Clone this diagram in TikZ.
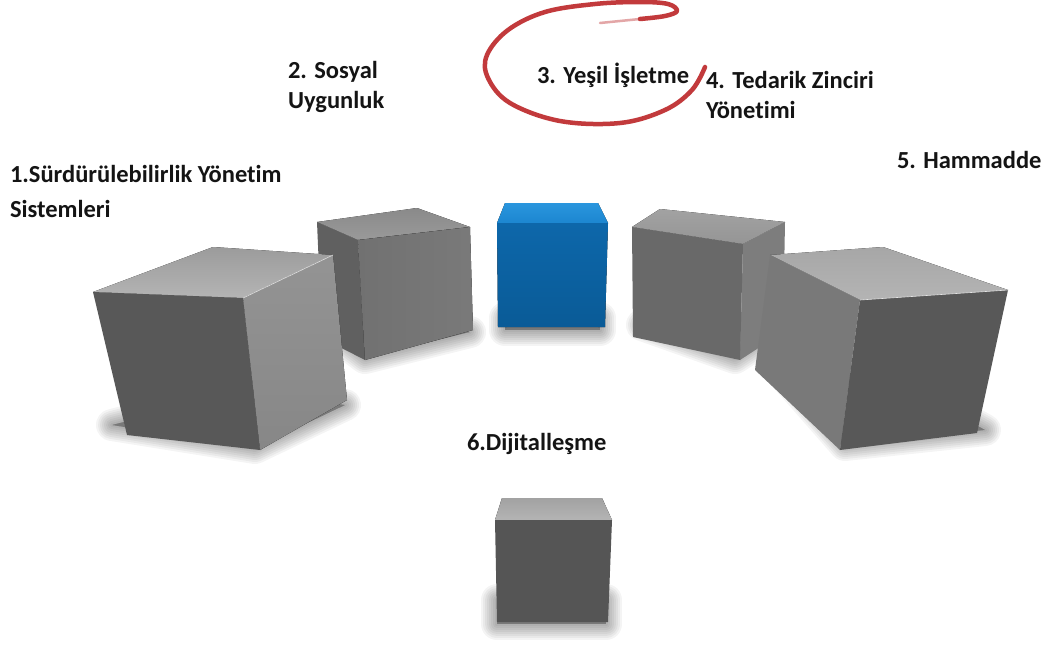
\documentclass[tikz,border=0pt]{standalone}
\usepackage{fontspec}
\setmainfont{Carlito}[Ligatures=NoCommon]

\definecolor{frontgray}{HTML}{585858}
\definecolor{sidegray}{HTML}{8E8E8E}
\definecolor{topgray}{HTML}{A2A2A2}
\definecolor{topgraylight}{HTML}{B4B4B4}
\definecolor{bluefront}{HTML}{0D67AA}
\definecolor{bluefrontdark}{HTML}{0A5B97}
\definecolor{bluetop}{HTML}{1C86D0}
\definecolor{bluetoplight}{HTML}{2A96DE}
\definecolor{loopred}{HTML}{C23A3C}
\definecolor{labelblack}{HTML}{141414}

\tikzset{
  label text/.style={font=\bfseries\fontsize{24.5}{30}\selectfont, text=labelblack,
    inner sep=0pt, outer sep=0pt, align=left},
  faceedge/.style={line width=0.6pt, line join=round},
}
% soft ground shadow: stacked translucent outlines of decreasing width
\newcommand{\softshadow}[1]{%
  \foreach \w in {32,28,...,2}{%
    \fill[black, opacity=0.045, draw=black, draw opacity=0.045,
      line width=\w pt, line join=round] #1;}%
}

\begin{document}
\begin{tikzpicture}[x=1pt,y=-1pt]
\useasboundingbox[fill=white] (0,0) rectangle (1044,645);

% ---- soft shadows on the ground ----
\softshadow{(112,425) -- (255,448) -- (345,405) -- (250,390) -- cycle}
\softshadow{(335,335) -- (365,358) -- (470,332) -- (430,322) -- cycle}
\softshadow{(505,318) -- (600,318) -- (600,330) -- (505,330) -- cycle}
\softshadow{(642,325) -- (735,358) -- (778,330) -- (700,318) -- cycle}
\softshadow{(775,365) -- (845,445) -- (985,430) -- (905,385) -- cycle}
\softshadow{(497,600) -- (606,600) -- (606,624) -- (497,624) -- cycle}

% ---- cube 2 (behind cube 1) ----
\coordinate (c2a) at (317,222); \coordinate (c2b) at (417,208);
\coordinate (c2c) at (470,227); \coordinate (c2d) at (358,240);
\coordinate (c2e) at (473,330); \coordinate (c2f) at (365,360);
\coordinate (c2g) at (322,338);
\fill[top color=topgray!85!black, bottom color=topgray!95!black] (c2a) -- (c2b) -- (c2c) -- (c2d) -- cycle;
\fill[color=frontgray!95!white] (c2a) -- (c2d) -- (c2f) -- (c2g) -- cycle;
\fill[left color=frontgray!85!white, right color=frontgray!80!white] (c2d) -- (c2c) -- (c2e) -- (c2f) -- cycle;

% ---- cube 3 (blue) ----
\coordinate (c3a) at (505,203); \coordinate (c3b) at (598,203);
\coordinate (c3c) at (608,223); \coordinate (c3d) at (497,223);
\coordinate (c3e) at (605,327); \coordinate (c3f) at (498,327);
\fill[top color=bluetoplight, bottom color=bluetop] (c3a) -- (c3b) -- (c3c) -- (c3d) -- cycle;
\fill[top color=bluefront, bottom color=bluefrontdark] (c3d) -- (c3c) -- (c3e) -- (c3f) -- cycle;

% ---- cube 4 (behind cube 5) ----
\coordinate (c4a) at (632,227); \coordinate (c4b) at (660,209);
\coordinate (c4c) at (785,222); \coordinate (c4d) at (743,244);
\coordinate (c4e) at (740,360); \coordinate (c4f) at (633,337);
\coordinate (c4g) at (783,332);
\fill[top color=topgray, bottom color=topgray!92!black] (c4a) -- (c4b) -- (c4c) -- (c4d) -- cycle;
\fill[color=sidegray!88!black] (c4d) -- (c4c) -- (c4g) -- (c4e) -- cycle;
\fill[color=frontgray!90!white] (c4a) -- (c4d) -- (c4e) -- (c4f) -- cycle;

% ---- cube 1 (large, left) ----
\coordinate (c1a) at (93,292);  \coordinate (c1b) at (243,298);
\coordinate (c1c) at (260,450); \coordinate (c1d) at (127,435);
\coordinate (c1e) at (213,247); \coordinate (c1f) at (333,255);
\coordinate (c1g) at (347,400);
\fill[top color=topgray!96!black, bottom color=topgraylight] (c1a) -- (c1e) -- (c1f) -- (c1b) -- cycle;
\fill[top color=sidegray!95!white, bottom color=sidegray!95!black] (c1b) -- (c1f) -- (c1g) -- (c1c) -- cycle;
\fill[color=frontgray] (c1a) -- (c1b) -- (c1c) -- (c1d) -- cycle;
\draw[faceedge, white!80!gray] (c1b) -- (c1f);

% ---- cube 5 (large, right) ----
\coordinate (c5a) at (770,255); \coordinate (c5b) at (883,247);
\coordinate (c5c) at (1008,290); \coordinate (c5d) at (860,300);
\coordinate (c5e) at (977,433); \coordinate (c5f) at (840,450);
\coordinate (c5g) at (755,370);
\fill[top color=topgray!95!white, bottom color=topgraylight] (c5a) -- (c5b) -- (c5c) -- (c5d) -- cycle;
\fill[color=sidegray!85!black] (c5a) -- (c5d) -- (c5f) -- (c5g) -- cycle;
\fill[color=frontgray] (c5d) -- (c5c) -- (c5e) -- (c5f) -- cycle;
\draw[faceedge, white!80!gray] (c5d) -- (c5c);

% ---- cube 6 (front) ----
\coordinate (c6a) at (502,498); \coordinate (c6b) at (602,498);
\coordinate (c6c) at (612,520); \coordinate (c6d) at (495,520);
\coordinate (c6e) at (608,622); \coordinate (c6f) at (497,622);
\fill[top color=topgray, bottom color=topgraylight] (c6a) -- (c6b) -- (c6c) -- (c6d) -- cycle;
\fill[color=frontgray!97!black] (c6d) -- (c6c) -- (c6e) -- (c6f) -- cycle;

% ---- hand-drawn red loop ----
\draw[loopred!45!white, line width=2.5pt, line cap=round]
  plot[smooth, tension=0.6] coordinates {(600,23) (620,21) (640,19)};
\draw[loopred, line width=4.5pt, line cap=round, line join=round]
  plot[smooth, tension=0.6] coordinates {(640,19) (665,16) (677,11) (668,4) (640,2) (595,4)
    (545,12) (508,30) (487,55) (488,78) (510,103) (560,121) (620,123) (665,110) (692,90) (705,67)};

% ---- labels (multi-line nodes are placed by their last baseline) ----
\node[label text, anchor=base west, font=\bfseries\fontsize{24.5}{35}\selectfont] (l1) at (10,217)
  {1.Sürdürülebilirlik Yönetim\\Sistemleri};
\node[label text, anchor=base west] (l2) at (288,108) {2. Sosyal\\Uygunluk};
\node[label text, anchor=base west] (l3) at (537,83) {3. Yeşil İşletme};
\node[label text, anchor=base west] (l4) at (706,118) {4. Tedarik Zinciri\\Yönetimi};
\node[label text, anchor=base west] (l5) at (897,168) {5. Hammadde};
\node[label text, anchor=base west] (l6) at (467,450) {6.Dijitalleşme};
\end{tikzpicture}
\end{document}
